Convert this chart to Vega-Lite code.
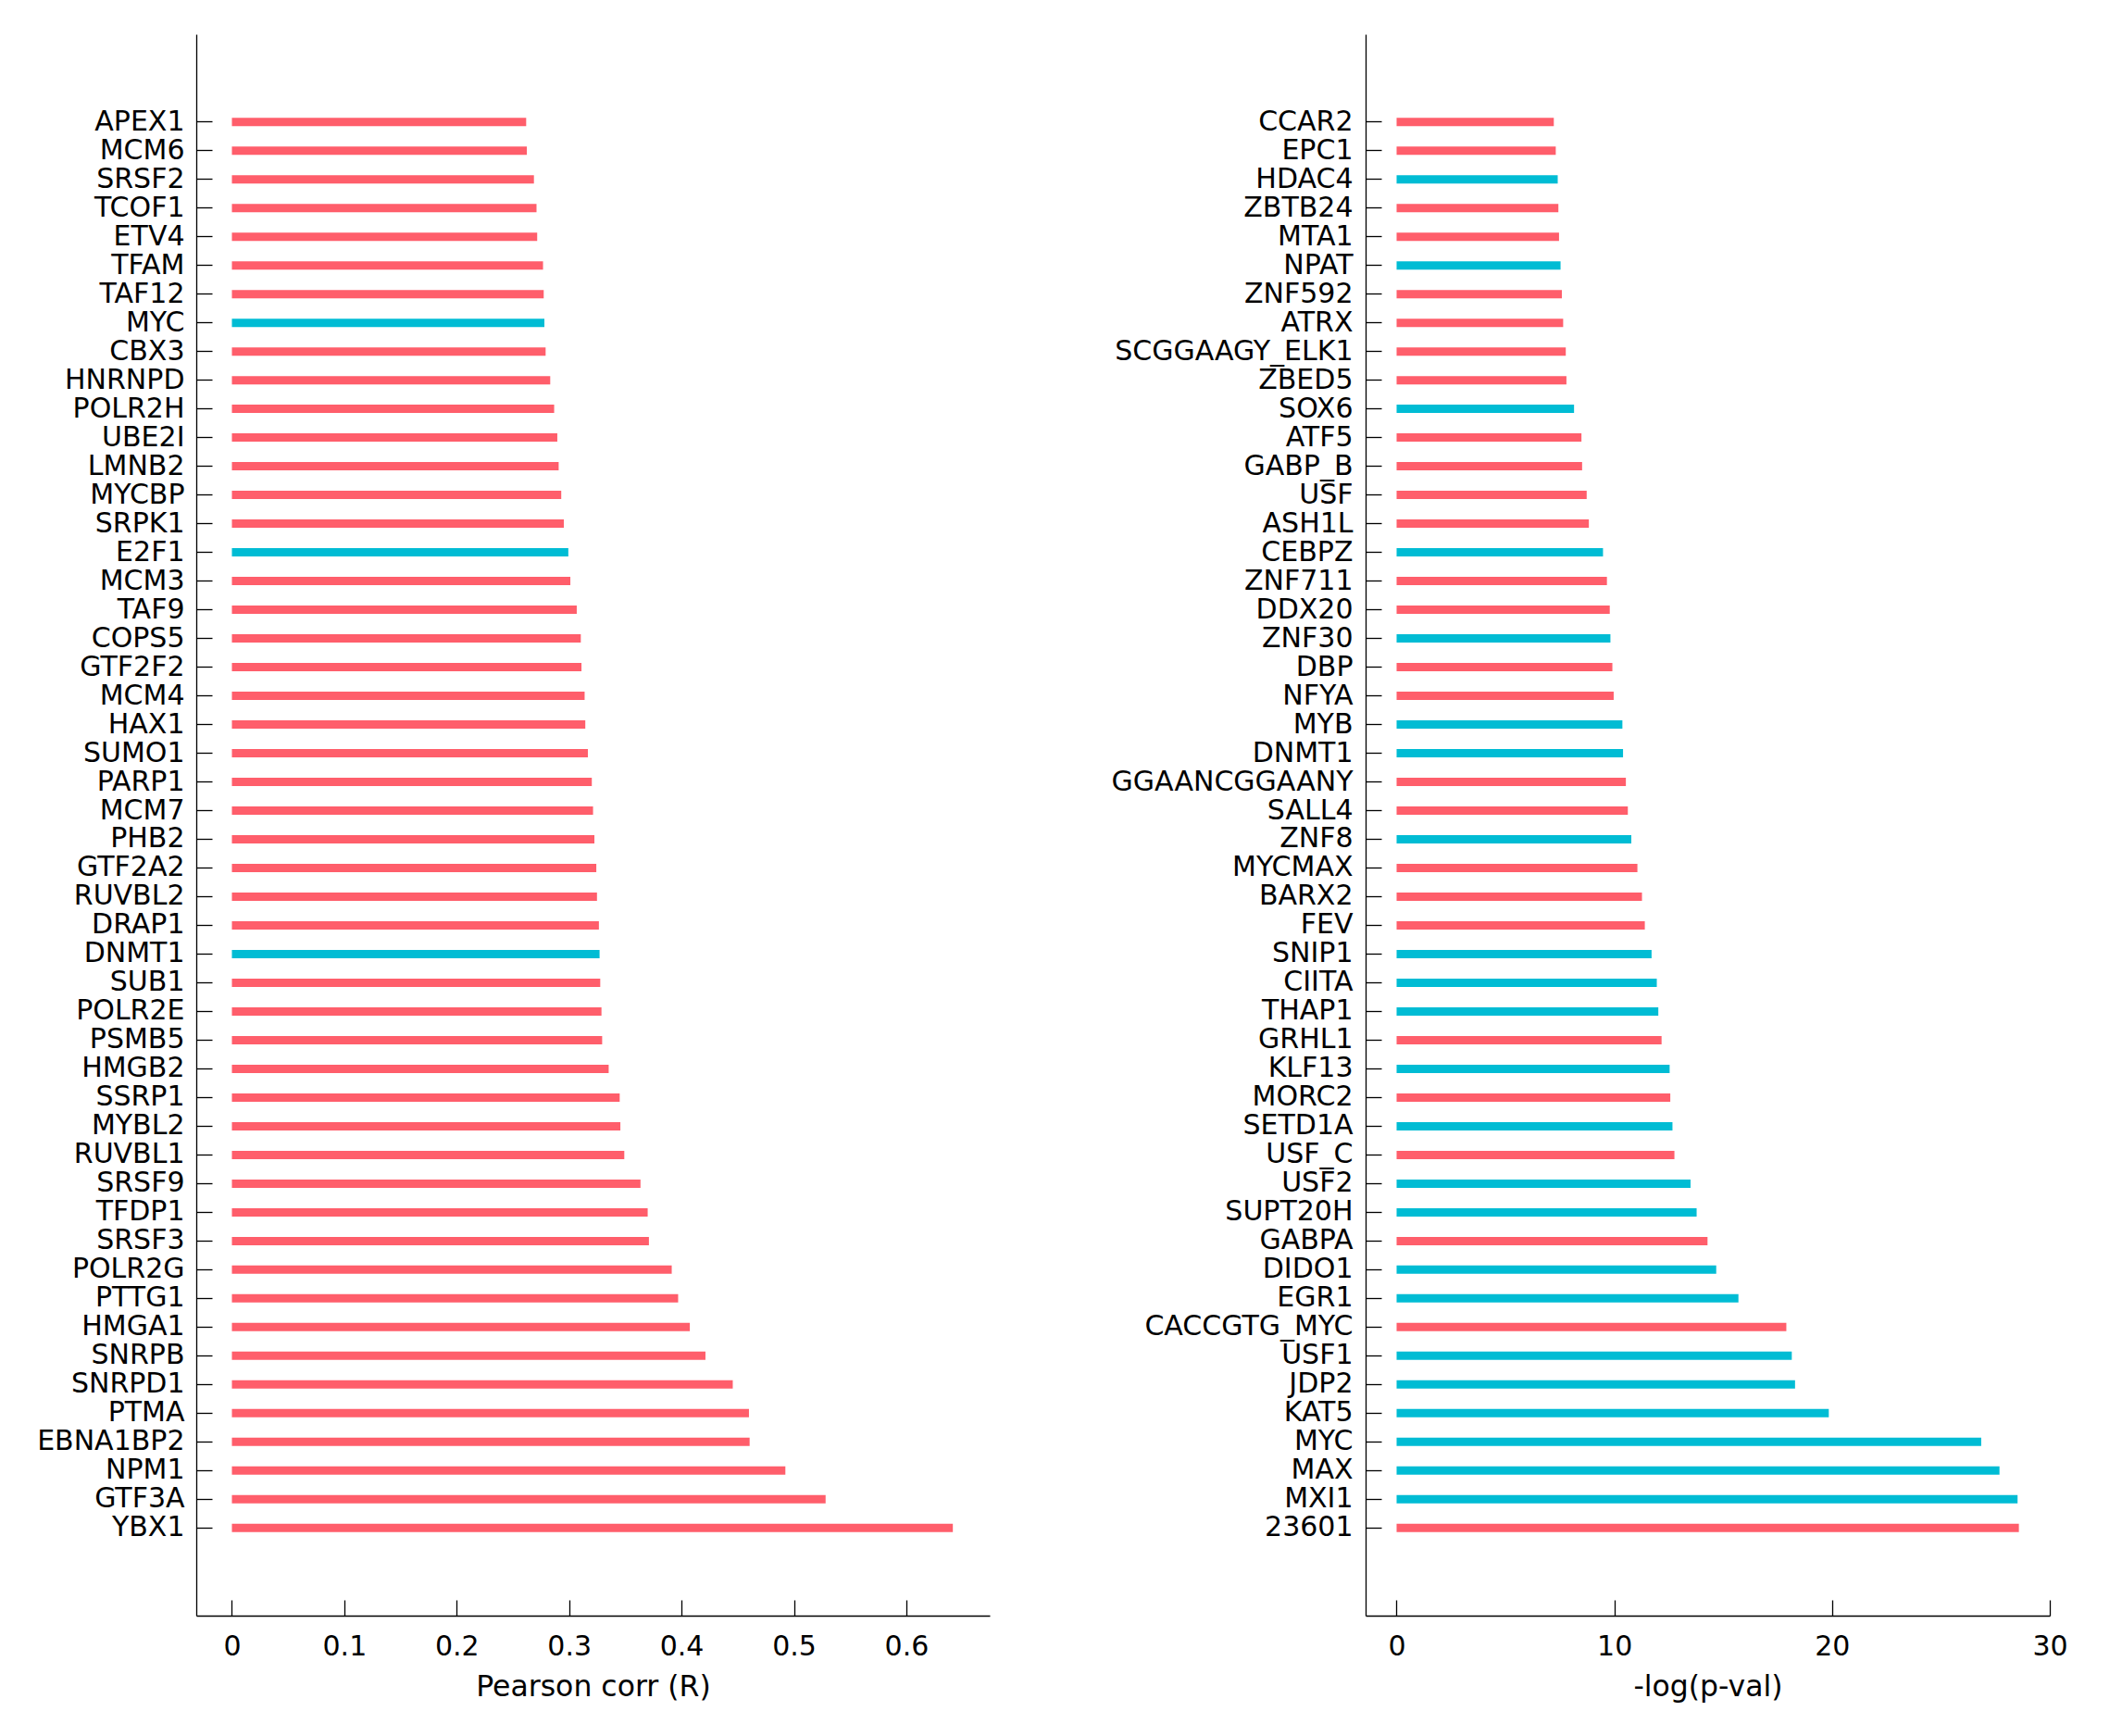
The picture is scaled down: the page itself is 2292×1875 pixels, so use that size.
{
  "$schema": "https://vega.github.io/schema/vega-lite/v6.json",
  "background": "white",
  "padding": {"left": 39, "top": 37, "right": 10, "bottom": 10},
  "config": {
    "view": {"stroke": null},
    "axis": {
      "labelFont": "DejaVu Sans",
      "labelFontSize": 30,
      "labelColor": "black",
      "labelLimit": 0,
      "titleFont": "DejaVu Sans",
      "titleFontSize": 31.5,
      "titleFontWeight": "normal",
      "titleColor": "black",
      "domainColor": "black",
      "domainWidth": 1.3,
      "tickColor": "black",
      "tickWidth": 1.3,
      "grid": false
    }
  },
  "datasets": {
    "corr": [
      {"gene": "APEX1", "value": 0.2618, "group": "other"},
      {"gene": "MCM6", "value": 0.2624, "group": "other"},
      {"gene": "SRSF2", "value": 0.2687, "group": "other"},
      {"gene": "TCOF1", "value": 0.2710, "group": "other"},
      {"gene": "ETV4", "value": 0.2716, "group": "other"},
      {"gene": "TFAM", "value": 0.2768, "group": "other"},
      {"gene": "TAF12", "value": 0.2774, "group": "other"},
      {"gene": "MYC", "value": 0.2780, "group": "TF"},
      {"gene": "CBX3", "value": 0.2791, "group": "other"},
      {"gene": "HNRNPD", "value": 0.2832, "group": "other"},
      {"gene": "POLR2H", "value": 0.2867, "group": "other"},
      {"gene": "UBE2I", "value": 0.2895, "group": "other"},
      {"gene": "LMNB2", "value": 0.2907, "group": "other"},
      {"gene": "MYCBP", "value": 0.2930, "group": "other"},
      {"gene": "SRPK1", "value": 0.2953, "group": "other"},
      {"gene": "E2F1", "value": 0.2993, "group": "TF"},
      {"gene": "MCM3", "value": 0.3011, "group": "other"},
      {"gene": "TAF9", "value": 0.3068, "group": "other"},
      {"gene": "COPS5", "value": 0.3104, "group": "other"},
      {"gene": "GTF2F2", "value": 0.3110, "group": "other"},
      {"gene": "MCM4", "value": 0.3138, "group": "other"},
      {"gene": "HAX1", "value": 0.3144, "group": "other"},
      {"gene": "SUMO1", "value": 0.3167, "group": "other"},
      {"gene": "PARP1", "value": 0.3202, "group": "other"},
      {"gene": "MCM7", "value": 0.3213, "group": "other"},
      {"gene": "PHB2", "value": 0.3225, "group": "other"},
      {"gene": "GTF2A2", "value": 0.3242, "group": "other"},
      {"gene": "RUVBL2", "value": 0.3248, "group": "other"},
      {"gene": "DRAP1", "value": 0.3265, "group": "other"},
      {"gene": "DNMT1", "value": 0.3271, "group": "TF"},
      {"gene": "SUB1", "value": 0.3277, "group": "other"},
      {"gene": "POLR2E", "value": 0.3288, "group": "other"},
      {"gene": "PSMB5", "value": 0.3294, "group": "other"},
      {"gene": "HMGB2", "value": 0.3352, "group": "other"},
      {"gene": "SSRP1", "value": 0.3450, "group": "other"},
      {"gene": "MYBL2", "value": 0.3456, "group": "other"},
      {"gene": "RUVBL1", "value": 0.3491, "group": "other"},
      {"gene": "SRSF9", "value": 0.3635, "group": "other"},
      {"gene": "TFDP1", "value": 0.3699, "group": "other"},
      {"gene": "SRSF3", "value": 0.3710, "group": "other"},
      {"gene": "POLR2G", "value": 0.3913, "group": "other"},
      {"gene": "PTTG1", "value": 0.3970, "group": "other"},
      {"gene": "HMGA1", "value": 0.4074, "group": "other"},
      {"gene": "SNRPB", "value": 0.4213, "group": "other"},
      {"gene": "SNRPD1", "value": 0.4456, "group": "other"},
      {"gene": "PTMA", "value": 0.4600, "group": "other"},
      {"gene": "EBNA1BP2", "value": 0.4606, "group": "other"},
      {"gene": "NPM1", "value": 0.4924, "group": "other"},
      {"gene": "GTF3A", "value": 0.5282, "group": "other"},
      {"gene": "YBX1", "value": 0.6414, "group": "other"}
    ],
    "pval": [
      {"tf": "CCAR2", "value": 7.22, "group": "other"},
      {"tf": "EPC1", "value": 7.31, "group": "other"},
      {"tf": "HDAC4", "value": 7.40, "group": "TF"},
      {"tf": "ZBTB24", "value": 7.43, "group": "other"},
      {"tf": "MTA1", "value": 7.46, "group": "other"},
      {"tf": "NPAT", "value": 7.53, "group": "TF"},
      {"tf": "ZNF592", "value": 7.59, "group": "other"},
      {"tf": "ATRX", "value": 7.65, "group": "other"},
      {"tf": "SCGGAAGY_ELK1", "value": 7.77, "group": "other"},
      {"tf": "ZBED5", "value": 7.80, "group": "other"},
      {"tf": "SOX6", "value": 8.15, "group": "TF"},
      {"tf": "ATF5", "value": 8.49, "group": "other"},
      {"tf": "GABP_B", "value": 8.52, "group": "other"},
      {"tf": "USF", "value": 8.73, "group": "other"},
      {"tf": "ASH1L", "value": 8.83, "group": "other"},
      {"tf": "CEBPZ", "value": 9.48, "group": "TF"},
      {"tf": "ZNF711", "value": 9.66, "group": "other"},
      {"tf": "DDX20", "value": 9.79, "group": "other"},
      {"tf": "ZNF30", "value": 9.82, "group": "TF"},
      {"tf": "DBP", "value": 9.91, "group": "other"},
      {"tf": "NFYA", "value": 9.97, "group": "other"},
      {"tf": "MYB", "value": 10.37, "group": "TF"},
      {"tf": "DNMT1", "value": 10.40, "group": "TF"},
      {"tf": "GGAANCGGAANY", "value": 10.53, "group": "other"},
      {"tf": "SALL4", "value": 10.62, "group": "other"},
      {"tf": "ZNF8", "value": 10.78, "group": "TF"},
      {"tf": "MYCMAX", "value": 11.06, "group": "other"},
      {"tf": "BARX2", "value": 11.27, "group": "other"},
      {"tf": "FEV", "value": 11.40, "group": "other"},
      {"tf": "SNIP1", "value": 11.71, "group": "TF"},
      {"tf": "CIITA", "value": 11.95, "group": "TF"},
      {"tf": "THAP1", "value": 12.02, "group": "TF"},
      {"tf": "GRHL1", "value": 12.17, "group": "other"},
      {"tf": "KLF13", "value": 12.54, "group": "TF"},
      {"tf": "MORC2", "value": 12.57, "group": "other"},
      {"tf": "SETD1A", "value": 12.67, "group": "TF"},
      {"tf": "USF_C", "value": 12.76, "group": "other"},
      {"tf": "USF2", "value": 13.50, "group": "TF"},
      {"tf": "SUPT20H", "value": 13.78, "group": "TF"},
      {"tf": "GABPA", "value": 14.28, "group": "other"},
      {"tf": "DIDO1", "value": 14.68, "group": "TF"},
      {"tf": "EGR1", "value": 15.70, "group": "TF"},
      {"tf": "CACCGTG_MYC", "value": 17.90, "group": "other"},
      {"tf": "USF1", "value": 18.15, "group": "TF"},
      {"tf": "JDP2", "value": 18.30, "group": "TF"},
      {"tf": "KAT5", "value": 19.85, "group": "TF"},
      {"tf": "MYC", "value": 26.85, "group": "TF"},
      {"tf": "MAX", "value": 27.69, "group": "TF"},
      {"tf": "MXI1", "value": 28.52, "group": "TF"},
      {"tf": "23601", "value": 28.58, "group": "other"}
    ]
  },
  "hconcat": [
    {
      "width": 857,
      "height": 1708,
      "data": {"name": "corr"},
      "mark": {"type": "bar", "size": 9},
      "encoding": {
        "y": {
          "field": "gene",
          "type": "nominal",
          "sort": null,
          "scale": {
            "domain": ["pad1", "pad2", "APEX1", "MCM6", "SRSF2", "TCOF1", "ETV4", "TFAM", "TAF12", "MYC", "CBX3", "HNRNPD", "POLR2H", "UBE2I", "LMNB2", "MYCBP", "SRPK1", "E2F1", "MCM3", "TAF9", "COPS5", "GTF2F2", "MCM4", "HAX1", "SUMO1", "PARP1", "MCM7", "PHB2", "GTF2A2", "RUVBL2", "DRAP1", "DNMT1", "SUB1", "POLR2E", "PSMB5", "HMGB2", "SSRP1", "MYBL2", "RUVBL1", "SRSF9", "TFDP1", "SRSF3", "POLR2G", "PTTG1", "HMGA1", "SNRPB", "SNRPD1", "PTMA", "EBNA1BP2", "NPM1", "GTF3A", "YBX1", "pad3", "pad4"],
            "paddingInner": 0,
            "paddingOuter": 0.556
          },
          "axis": {
            "title": null,
            "tickSize": -17,
            "labelPadding": 30,
            "values": ["APEX1", "MCM6", "SRSF2", "TCOF1", "ETV4", "TFAM", "TAF12", "MYC", "CBX3", "HNRNPD", "POLR2H", "UBE2I", "LMNB2", "MYCBP", "SRPK1", "E2F1", "MCM3", "TAF9", "COPS5", "GTF2F2", "MCM4", "HAX1", "SUMO1", "PARP1", "MCM7", "PHB2", "GTF2A2", "RUVBL2", "DRAP1", "DNMT1", "SUB1", "POLR2E", "PSMB5", "HMGB2", "SSRP1", "MYBL2", "RUVBL1", "SRSF9", "TFDP1", "SRSF3", "POLR2G", "PTTG1", "HMGA1", "SNRPB", "SNRPD1", "PTMA", "EBNA1BP2", "NPM1", "GTF3A", "YBX1"]
          }
        },
        "x": {
          "field": "value",
          "type": "quantitative",
          "scale": {"domain": [-0.0317, 0.6742], "nice": false, "zero": false},
          "axis": {"title": "Pearson corr (R)", "values": [0, 0.1, 0.2, 0.3, 0.4, 0.5, 0.6], "format": "~g", "tickSize": -17, "labelPadding": 35, "titlePadding": 13, "labelFlush": false}
        },
        "x2": {"datum": 0},
        "color": {
          "field": "group",
          "type": "nominal",
          "scale": {"domain": ["other", "TF"], "range": ["#ff5e6b", "#00bcd4"]},
          "legend": null
        }
      }
    },
    {
      "width": 739,
      "height": 1708,
      "data": {"name": "pval"},
      "mark": {"type": "bar", "size": 9},
      "encoding": {
        "y": {
          "field": "tf",
          "type": "nominal",
          "sort": null,
          "scale": {
            "domain": ["pad1", "pad2", "CCAR2", "EPC1", "HDAC4", "ZBTB24", "MTA1", "NPAT", "ZNF592", "ATRX", "SCGGAAGY_ELK1", "ZBED5", "SOX6", "ATF5", "GABP_B", "USF", "ASH1L", "CEBPZ", "ZNF711", "DDX20", "ZNF30", "DBP", "NFYA", "MYB", "DNMT1", "GGAANCGGAANY", "SALL4", "ZNF8", "MYCMAX", "BARX2", "FEV", "SNIP1", "CIITA", "THAP1", "GRHL1", "KLF13", "MORC2", "SETD1A", "USF_C", "USF2", "SUPT20H", "GABPA", "DIDO1", "EGR1", "CACCGTG_MYC", "USF1", "JDP2", "KAT5", "MYC", "MAX", "MXI1", "23601", "pad3", "pad4"],
            "paddingInner": 0,
            "paddingOuter": 0.556
          },
          "axis": {
            "title": null,
            "tickSize": -17,
            "labelPadding": 31,
            "values": ["CCAR2", "EPC1", "HDAC4", "ZBTB24", "MTA1", "NPAT", "ZNF592", "ATRX", "SCGGAAGY_ELK1", "ZBED5", "SOX6", "ATF5", "GABP_B", "USF", "ASH1L", "CEBPZ", "ZNF711", "DDX20", "ZNF30", "DBP", "NFYA", "MYB", "DNMT1", "GGAANCGGAANY", "SALL4", "ZNF8", "MYCMAX", "BARX2", "FEV", "SNIP1", "CIITA", "THAP1", "GRHL1", "KLF13", "MORC2", "SETD1A", "USF_C", "USF2", "SUPT20H", "GABPA", "DIDO1", "EGR1", "CACCGTG_MYC", "USF1", "JDP2", "KAT5", "MYC", "MAX", "MXI1", "23601"]
          }
        },
        "x": {
          "field": "value",
          "type": "quantitative",
          "scale": {"domain": [-1.424, 30.0], "nice": false, "zero": false},
          "axis": {"title": "-log(p-val)", "values": [0, 10, 20, 30], "tickSize": -17, "labelPadding": 35, "titlePadding": 13, "labelFlush": false}
        },
        "x2": {"datum": 0},
        "color": {
          "field": "group",
          "type": "nominal",
          "scale": {"domain": ["other", "TF"], "range": ["#ff5e6b", "#00bcd4"]},
          "legend": null
        }
      }
    }
  ],
  "resolve": {"scale": {"color": "shared"}},
  "bounds": "flush",
  "spacing": 406
}
